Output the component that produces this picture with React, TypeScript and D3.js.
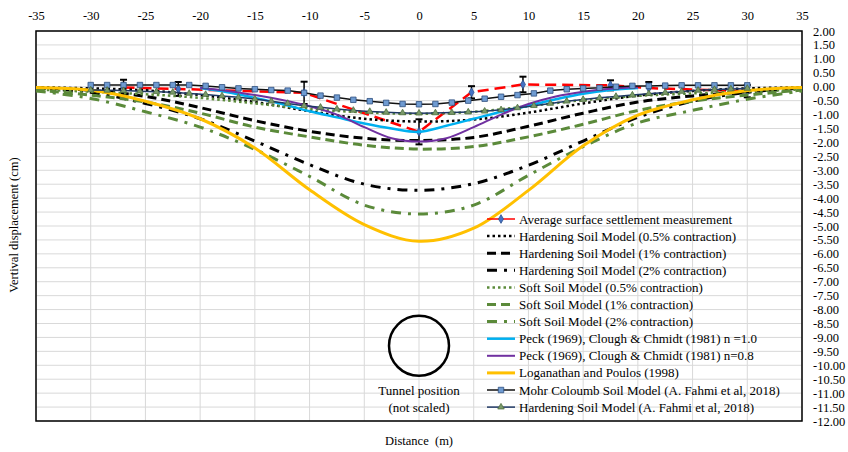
import * as d3 from "d3";
import React, { useEffect, useRef } from "react";

// axis ticks
const xTicks = [-35, -30, -25, -20, -15, -10, -5, 0, 5, 10, 15, 20, 25, 30, 35];
const yTicks = [2, 1.5, 1, 0.5, 0, -0.5, -1, -1.5, -2, -2.5, -3, -3.5, -4, -4.5, -5, -5.5, -6,
  -6.5, -7, -7.5, -8, -8.5, -9, -9.5, -10, -10.5, -11, -11.5, -12];

// model curves (distance in m, settlement in cm)
const modelX = [-35, -30, -25, -20, -15, -10, -5, 0, 5, 10, 15, 20, 25, 30, 35];
const hs05 = [-0.02, -0.06, -0.13, -0.3, -0.55, -0.88, -1.15, -1.25, -1.18, -0.93, -0.6, -0.32, -0.15, -0.06, -0.02];
const hs1 = [-0.05, -0.13, -0.35, -0.75, -1.22, -1.6, -1.85, -1.93, -1.82, -1.42, -0.95, -0.55, -0.33, -0.18, -0.05];
const hs2 = [-0.05, -0.2, -0.6, -1.15, -1.95, -2.8, -3.5, -3.72, -3.48, -2.82, -1.95, -1.1, -0.52, -0.2, -0.05];
const ss05 = [-0.1, -0.18, -0.27, -0.4, -0.6, -0.8, -0.92, -0.97, -0.9, -0.7, -0.48, -0.33, -0.24, -0.17, -0.1];
const ss1 = [-0.12, -0.3, -0.55, -0.95, -1.45, -1.8, -2.1, -2.24, -2.15, -1.8, -1.35, -0.85, -0.52, -0.3, -0.12];
const ss2 = [-0.15, -0.42, -0.9, -1.45, -2.25, -3.22, -4.25, -4.57, -4.25, -3.18, -2.15, -1.3, -0.85, -0.45, -0.15];
const logan = [-0.03, -0.13, -0.52, -1.15, -2.2, -3.7, -4.95, -5.55, -5.08, -3.72, -2.12, -1.02, -0.47, -0.14, -0.03];

// Peck / Clough & Schmidt
const peckX = [-20, -17.5, -15, -12.5, -10, -7.5, -5, -2.5, 0, 2.5, 5, 7.5, 10, 12.5, 15, 17.5, 20];
const peck10 = [-0.05, -0.2, -0.4, -0.62, -0.88, -1.1, -1.32, -1.5, -1.62, -1.4, -1.15, -0.9, -0.68, -0.45, -0.25, -0.12, -0.05];
const peck08 = [-0.04, -0.15, -0.3, -0.48, -0.7, -1.0, -1.45, -1.85, -1.97, -1.85, -1.45, -1.0, -0.62, -0.35, -0.18, -0.07, -0.02];

// A. Fahmi et al 2018
const fahmiX = [-30, -28.5, -27, -25.5, -24, -22.5, -21, -19.5, -18, -16.5, -15, -13.5, -12, -10.5, -9, -7.5, -6, -4.5, -3, -1.5,
  0, 1.5, 3, 4.5, 6, 7.5, 9, 10.5, 12, 13.5, 15, 16.5, 18, 19.5, 21, 22.5, 24, 25.5, 27, 28.5, 30];
const mcFahmi = [0.06, 0.06, 0.06, 0.06, 0.06, 0.06, 0.06, 0.03, -0.02, -0.06, -0.09, -0.12, -0.14, -0.22, -0.32, -0.39, -0.47, -0.52, -0.58, -0.62,
  -0.63, -0.62, -0.57, -0.5, -0.43, -0.36, -0.3, -0.24, -0.14, -0.09, -0.06, -0.04, 0.0, 0.03, 0.03, 0.04, 0.05, 0.05, 0.05, 0.05, 0.05];
const hsFahmi = [-0.12, -0.13, -0.14, -0.16, -0.18, -0.2, -0.24, -0.28, -0.33, -0.38, -0.44, -0.52, -0.6, -0.68, -0.74, -0.8, -0.85, -0.89, -0.92, -0.94,
  -0.95, -0.94, -0.93, -0.91, -0.88, -0.83, -0.76, -0.68, -0.6, -0.52, -0.46, -0.4, -0.35, -0.3, -0.25, -0.21, -0.17, -0.13, -0.1, -0.08, -0.06];

// field measurements
const measX = [-27, -22, -10.5, 0, 4.8, 9.5, 17.5, 21, 30];
const measY = [-0.03, -0.08, -0.22, -1.62, -0.2, 0.08, 0.05, -0.05, -0.16];
const measErr = [0.28, 0.25, 0.4, 0.45, 0.22, 0.28, 0.18, 0.22, 0.22];

const legendLabels = [
  "Average surface settlement measurement",
  "Hardening Soil Model (0.5% contraction)",
  "Hardening Soil Model (1% contraction)",
  "Hardening Soil Model (2% contraction)",
  "Soft Soil Model (0.5% contraction)",
  "Soft Soil Model (1% contraction)",
  "Soft Soil Model (2% contraction)",
  "Peck (1969), Clough & Chmidt (1981) n =1.0",
  "Peck (1969), Clough & Chmidt (1981) n=0.8",
  "Loganathan and Poulos (1998)",
  "Mohr Coloumb Soil Model (A. Fahmi et al, 2018)",
  "Hardening Soil Model (A. Fahmi et al, 2018)",
];

const GREEN = "#5b8a3a";
const FONT = "'Liberation Serif', 'Times New Roman', serif";

const series = [
  { xs: measX, ys: measY, color: "#ff0000", width: 2.5, dash: "11 6", smooth: false, marker: "diamond" },
  { xs: modelX, ys: hs05, color: "#000", width: 2.5, dash: "2.5 3", smooth: true },
  { xs: modelX, ys: hs1, color: "#000", width: 3, dash: "9 5", smooth: true },
  { xs: modelX, ys: hs2, color: "#000", width: 3, dash: "10 7 3 7", smooth: true },
  { xs: modelX, ys: ss05, color: GREEN, width: 2.5, dash: "2.5 3", smooth: true },
  { xs: modelX, ys: ss1, color: GREEN, width: 3, dash: "9 5", smooth: true },
  { xs: modelX, ys: ss2, color: GREEN, width: 3, dash: "10 7 3 7", smooth: true },
  { xs: peckX, ys: peck10, color: "#00b0f0", width: 2.5, dash: null, smooth: true },
  { xs: peckX, ys: peck08, color: "#7030a0", width: 2, dash: null, smooth: true },
  { xs: modelX, ys: logan, color: "#ffc000", width: 3, dash: null, smooth: true },
  { xs: fahmiX, ys: mcFahmi, color: "#111", width: 1.5, dash: null, smooth: false, marker: "square" },
  { xs: fahmiX, ys: hsFahmi, color: "#1f3864", width: 1.5, dash: null, smooth: false, marker: "triangle" },
];

const W = 848;
const H = 452;

export const SettlementChart = () => {
  const svgRef = useRef<SVGSVGElement>(null);

  useEffect(() => {
    const x = d3.scaleLinear().domain([-35, 35]).range([36, 802]);
    const y = d3.scaleLinear().domain([-12, 2]).range([421, 31]);

    const svg = d3.select(svgRef.current);
    svg.selectAll("*").remove();

    svg.append("rect").attr("width", W).attr("height", H).attr("fill", "#fff");

    // gridlines
    svg.append("g")
      .selectAll("line")
      .data(yTicks)
      .enter()
      .append("line")
      .attr("x1", x(-35)).attr("x2", x(35))
      .attr("y1", (d) => y(d)).attr("y2", (d) => y(d))
      .attr("stroke", "#d9d9d9").attr("stroke-width", 1);
    svg.append("g")
      .selectAll("line")
      .data(xTicks)
      .enter()
      .append("line")
      .attr("y1", y(2)).attr("y2", y(-12))
      .attr("x1", (d) => x(d)).attr("x2", (d) => x(d))
      .attr("stroke", "#d9d9d9").attr("stroke-width", 1);

    // axes (labels only)
    const topAxis = svg.append("g")
      .attr("transform", "translate(0," + y(2) + ")")
      .call(d3.axisTop(x).tickValues(xTicks).tickSize(0).tickPadding(11).tickFormat((d: any) => String(d)));
    const rightAxis = svg.append("g")
      .attr("transform", "translate(" + x(35) + ",0)")
      .call(d3.axisRight(y).tickValues(yTicks).tickSize(0).tickPadding(11).tickFormat((d: any) => (+d).toFixed(2)));
    [topAxis, rightAxis].forEach((g) => {
      g.select(".domain").remove();
      g.selectAll("text").attr("font-family", FONT).attr("font-size", 12.5).attr("fill", "#000");
    });

    // plot border
    svg.append("rect")
      .attr("x", x(-35)).attr("y", y(2))
      .attr("width", x(35) - x(-35)).attr("height", y(-12) - y(2))
      .attr("fill", "none").attr("stroke", "#000").attr("stroke-width", 1.5);

    const clip = svg.append("g");

    // series lines
    series.forEach((s, i) => {
      const pts = s.xs.map((d, j) => [d, s.ys[j]] as [number, number]);
      const line = d3.line()
        .x((d) => x(d[0]))
        .y((d) => y(d[1]))
        .curve(s.smooth ? d3.curveCatmullRom.alpha(0.5) : d3.curveLinear);
      clip.append("path")
        .attr("d", line(pts))
        .attr("fill", "none")
        .attr("stroke", s.color)
        .attr("stroke-width", s.width)
        .attr("stroke-dasharray", s.dash)
        .attr("stroke-linejoin", "round");

      if (i === 0) {
        // error bars
        const eb = clip.append("g").attr("stroke", "#000");
        measX.forEach((mx, j) => {
          const top = y(measY[j] + measErr[j]);
          const bot = y(measY[j] - measErr[j]);
          eb.append("line").attr("x1", x(mx)).attr("x2", x(mx)).attr("y1", top).attr("y2", bot).attr("stroke-width", 1.5);
          eb.append("line").attr("x1", x(mx) - 3.5).attr("x2", x(mx) + 3.5).attr("y1", top).attr("y2", top).attr("stroke-width", 2);
          eb.append("line").attr("x1", x(mx) - 3.5).attr("x2", x(mx) + 3.5).attr("y1", bot).attr("y2", bot).attr("stroke-width", 2);
        });
      }
      if (s.marker) drawMarkers(clip, pts.map((p) => [x(p[0]), y(p[1])]), s.marker);
    });

    // tunnel
    svg.append("circle")
      .attr("cx", x(0)).attr("cy", y(-9.3)).attr("r", 30)
      .attr("fill", "none").attr("stroke", "#000").attr("stroke-width", 2.5);
    svg.append("text")
      .attr("x", x(0)).attr("y", 395)
      .attr("text-anchor", "middle").attr("font-family", FONT).attr("font-size", 13)
      .text("Tunnel position");
    svg.append("text")
      .attr("x", x(0)).attr("y", 412)
      .attr("text-anchor", "middle").attr("font-family", FONT).attr("font-size", 13)
      .text("(not scaled)");

    // legend
    const lg = svg.append("g");
    legendLabels.forEach((label, i) => {
      const s = series[i];
      const cy = 219 + i * 17.1;
      lg.append("line")
        .attr("x1", 487).attr("x2", 515).attr("y1", cy).attr("y2", cy)
        .attr("stroke", s.color)
        .attr("stroke-width", s.marker ? Math.max(1.5, s.width - 1) : s.width)
        .attr("stroke-dasharray", i === 0 ? null : s.dash);
      if (s.marker) drawMarkers(lg, [[501, cy]], s.marker);
      lg.append("text")
        .attr("x", 519).attr("y", cy).attr("dy", "0.35em")
        .attr("font-family", FONT).attr("font-size", 13)
        .text(label);
    });

    // axis titles
    svg.append("text")
      .attr("transform", "rotate(-90)")
      .attr("x", -225).attr("y", 18)
      .attr("text-anchor", "middle").attr("font-family", FONT).attr("font-size", 12.5)
      .text("Vertival displacement (cm)");
    svg.append("text")
      .attr("x", x(0)).attr("y", 445)
      .attr("text-anchor", "middle").attr("font-family", FONT).attr("font-size", 12.5)
      .attr("xml:space", "preserve")
      .style("white-space", "pre")
      .text("Distance  (m)");
  });

  return <svg ref={svgRef} width={W} height={H} style={{ position: "absolute", left: 0, top: 0 }} />;
};

function drawMarkers(g: any, pts: number[][], kind: string) {
  const sym =
    kind === "square" ? d3.symbol(d3.symbolSquare, 30)
      : kind === "triangle" ? d3.symbol(d3.symbolTriangle, 18)
        : d3.symbol(d3.symbolDiamond, 22);
  const fill = kind === "square" ? "#6f9bd1" : kind === "triangle" ? "#7a9a6a" : "#4472c4";
  const stroke = kind === "square" ? "#2f4f7f" : kind === "triangle" ? "#4f6f3f" : "#2f528f";
  g.append("g")
    .selectAll("path")
    .data(pts)
    .enter()
    .append("path")
    .attr("transform", (d: number[]) => "translate(" + d[0] + "," + d[1] + ")")
    .attr("d", sym())
    .attr("fill", fill)
    .attr("stroke", stroke)
    .attr("stroke-width", 0.8);
}

export default function App() {
  return <SettlementChart />;
}
